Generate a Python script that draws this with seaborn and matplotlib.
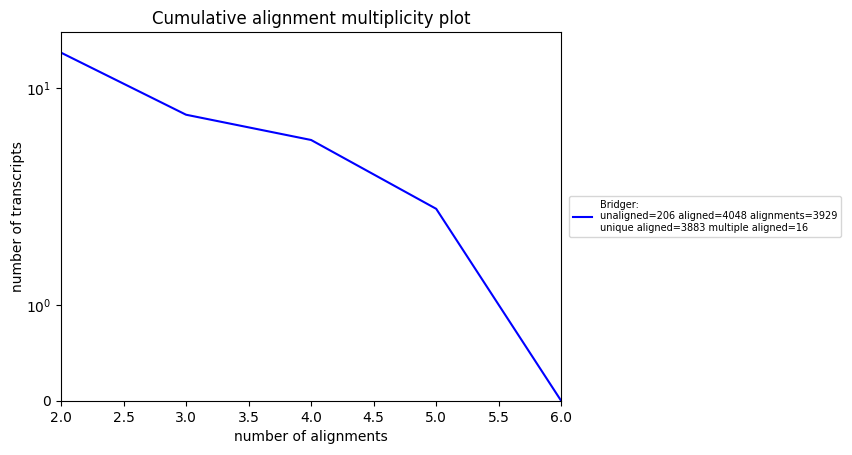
import matplotlib
matplotlib.use("Agg")
import matplotlib.pyplot as plt
import seaborn as sns
import pandas as pd
from matplotlib.ticker import NullLocator

# cumulative multiplicity values
n_alignments = [2, 3, 4, 5, 6]
n_transcripts = [16, 7, 5, 2, 0]
label = ("Bridger:\nunaligned=206 aligned=4048 alignments=3929\n"
         "unique aligned=3883 multiple aligned=16")

df = pd.DataFrame({"alignments": n_alignments, "transcripts": n_transcripts})

fig = plt.figure(figsize=(8.53, 4.55), dpi=100)
ax = fig.add_axes([0.0715, 0.1187, 0.5865, 0.8113])

sns.lineplot(data=df, x="alignments", y="transcripts", ax=ax, color="blue",
             label=label, linewidth=1.5)

ax.set_yscale("symlog", linthresh=2, linscale=1)
ax.set_xlim(2, 6)
ax.set_ylim(0, 21.1)
ax.set_yticks([0, 1, 10])
ax.set_yticklabels(["0", r"$\mathdefault{10^{0}}$", r"$\mathdefault{10^{1}}$"])
ax.yaxis.set_minor_locator(NullLocator())

ax.set_title("Cumulative alignment multiplicity plot")
ax.set_xlabel("number of alignments")
ax.set_ylabel("number of transcripts", labelpad=1)
ax.legend(loc="center left", bbox_to_anchor=(1.005, 0.5), fontsize=7)

fig.savefig("out.png", dpi=100)
